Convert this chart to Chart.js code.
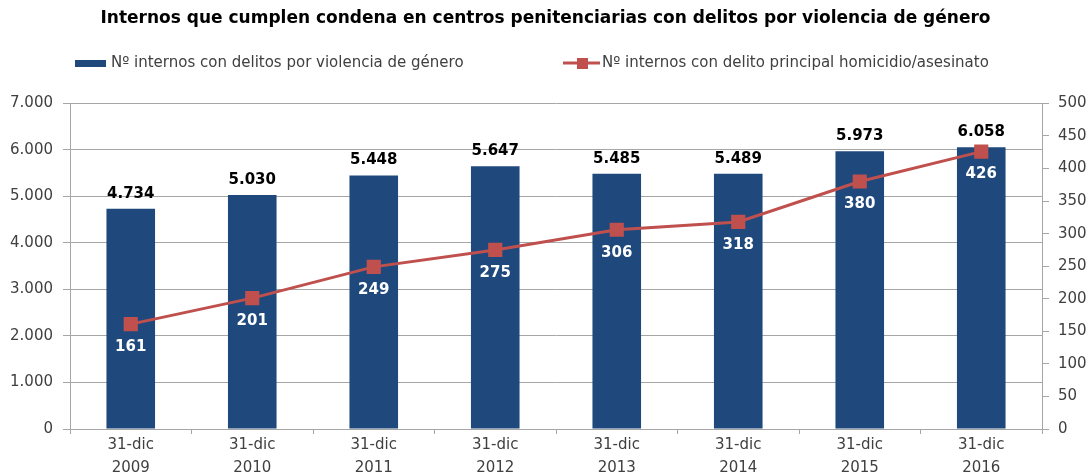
<!DOCTYPE html>
<html>
<head>
<meta charset="utf-8">
<script src="https://cdn.jsdelivr.net/npm/chart.js@4/dist/chart.umd.min.js"></script>
<style>
  html, body { margin: 0; padding: 0; background: #fff; overflow: hidden; }
  #wrap { width: 1091px; height: 484px; position: relative; }
</style>
</head>
<body>
<div id="wrap"><canvas id="chart"></canvas></div>
<script>
// data
const categories = [['31-dic', '2009'], ['31-dic', '2010'], ['31-dic', '2011'], ['31-dic', '2012'],
                    ['31-dic', '2013'], ['31-dic', '2014'], ['31-dic', '2015'], ['31-dic', '2016']];
const internosViolencia = [4734, 5030, 5448, 5647, 5485, 5489, 5973, 6058];
const internosHomicidio = [161, 201, 249, 275, 306, 318, 380, 426];
const barLabel = 'Nº internos con delitos por violencia de género';
const lineLabel = 'Nº internos con delito principal homicidio/asesinato';

const FONT = "'DejaVu Sans', sans-serif";
const BLUE = '#1F497D';
const RED = '#C0504D';
const GRID = '#A6A6A6';

// 7000 -> "7.000"
function fmt(v) {
  return String(v).replace(/\B(?=(\d{3})+(?!\d))/g, '.');
}

// value labels + custom legend
const labelsPlugin = {
  id: 'labelsPlugin',
  afterDatasetsDraw(chart) {
    const ctx = chart.ctx;
    ctx.save();
    ctx.textAlign = 'center';
    ctx.textBaseline = 'middle';
    ctx.font = 'bold 15px ' + FONT;

    const barMeta = chart.getDatasetMeta(0);
    barMeta.data.forEach((el, i) => {
      ctx.fillStyle = '#000';
      ctx.fillText(fmt(internosViolencia[i]), el.x, el.y - 15);
    });

    const lineMeta = chart.getDatasetMeta(1);
    lineMeta.data.forEach((el, i) => {
      ctx.fillStyle = '#fff';
      ctx.fillText(fmt(internosHomicidio[i]), el.x, el.y + 23);
    });
    ctx.restore();
  },
  afterDraw(chart) {
    const ctx = chart.ctx;
    const y = 63;
    ctx.save();
    ctx.font = '15px ' + FONT;
    ctx.textBaseline = 'middle';

    // bar item
    ctx.fillStyle = BLUE;
    ctx.fillRect(75, y - 3, 31, 7);
    ctx.fillStyle = '#404040';
    ctx.fillText(barLabel, 111, y);

    // line item
    ctx.strokeStyle = RED;
    ctx.lineWidth = 3;
    ctx.beginPath();
    ctx.moveTo(563, y);
    ctx.lineTo(600, y);
    ctx.stroke();
    ctx.fillStyle = RED;
    ctx.fillRect(577, y - 5, 11, 11);
    ctx.fillStyle = '#404040';
    ctx.fillText(lineLabel, 602, y);
    ctx.restore();
  }
};

new Chart(document.getElementById('chart'), {
  type: 'bar',
  data: {
    labels: categories,
    datasets: [{
      type: 'bar',
      label: barLabel,
      data: internosViolencia,
      backgroundColor: BLUE,
      barPercentage: 0.4,
      categoryPercentage: 1,
      yAxisID: 'y',
      order: 2
    }, {
      type: 'line',
      label: lineLabel,
      data: internosHomicidio,
      borderColor: RED,
      backgroundColor: RED,
      borderWidth: 3,
      pointStyle: 'rect',
      pointRadius: 10,
      pointBorderWidth: 0,
      tension: 0,
      yAxisID: 'y1',
      order: 1
    }]
  },
  options: {
    responsive: true,
    maintainAspectRatio: false,
    animation: false,
    layout: { padding: 0 },
    plugins: {
      legend: { display: false },
      tooltip: { enabled: false },
      title: {
        display: true,
        text: 'Internos que cumplen condena en centros penitenciarias con delitos por violencia de género',
        color: '#000',
        font: { family: FONT, size: 17, weight: 'bold', lineHeight: 1.2 },
        padding: { top: 8, bottom: 75 }
      }
    },
    scales: {
      x: {
        offset: true,
        grid: { display: true, drawOnChartArea: false, offset: true, color: GRID, tickLength: 5 },
        border: { color: GRID },
        ticks: { color: '#404040', font: { family: FONT, size: 15, lineHeight: 1.5 }, padding: 0, maxRotation: 0 },
        afterFit(scale) { scale.height = 484 - 429; }
      },
      y: {
        position: 'left',
        min: 0,
        max: 7000,
        ticks: { stepSize: 1000, color: '#404040', font: { family: FONT, size: 15 }, padding: 10, callback: v => fmt(v) },
        grid: { color: GRID, tickLength: 7 },
        border: { color: GRID },
        afterFit(scale) { scale.width = 70; }
      },
      y1: {
        position: 'right',
        min: 0,
        max: 500,
        ticks: { stepSize: 50, color: '#404040', font: { family: FONT, size: 15 }, padding: 9 },
        grid: { drawOnChartArea: false, color: GRID, tickLength: 7 },
        border: { color: GRID },
        afterFit(scale) { scale.width = 1091 - 1042; }
      }
    }
  },
  plugins: [labelsPlugin]
});
</script>
</body>
</html>
